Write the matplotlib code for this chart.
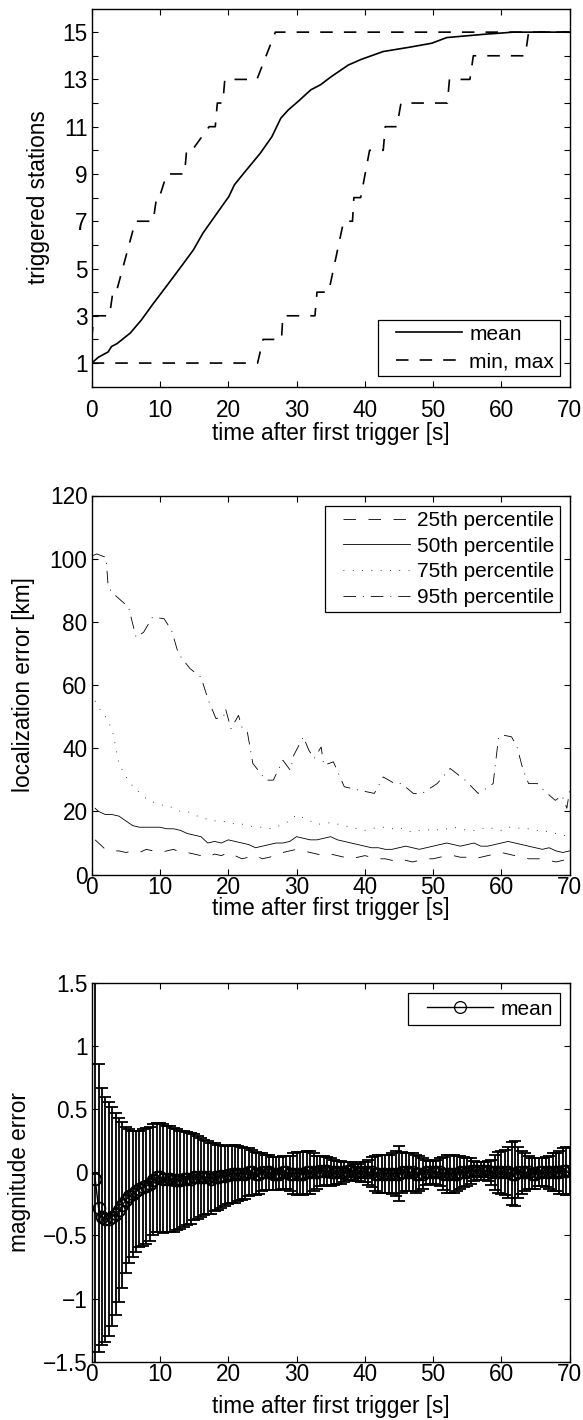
import numpy as np
import matplotlib
matplotlib.use("Agg")
import matplotlib.pyplot as plt
from matplotlib.legend_handler import HandlerLine2D
from matplotlib.ticker import FuncFormatter

plt.rcParams['font.family'] = ['Liberation Sans', 'DejaVu Sans']
plt.rcParams['lines.scale_dashes'] = False

# ---------------- data ----------------
# panel 1: triggered stations
t_mean = [0, 1, 2.4, 2.9, 3.7, 5.65, 7.3, 8.9, 11.1, 13.3, 14.9, 16.3, 18.7, 20.1, 20.9, 22.3,
          24.7, 26.4, 27.7, 28.8, 30.2, 32.1, 33.5, 35.1, 37.6, 39.5, 42.7, 46.5, 49.8, 52.0,
          57.5, 61.8, 70]
stations_mean = [1.0, 1.25, 1.47, 1.7, 1.82, 2.27, 2.83, 3.47, 4.31, 5.16, 5.79, 6.5, 7.48, 8.05,
                 8.54, 9.04, 9.88, 10.58, 11.36, 11.71, 12.06, 12.56, 12.77, 13.12, 13.61, 13.85,
                 14.18, 14.36, 14.53, 14.77, 14.91, 15.0, 15.0]
t_max = [0, 0.3, 2.6, 3.1, 3.6, 6.4, 9.0, 9.5, 9.9, 11.0, 13.6, 13.9, 14.7, 17.2, 18.1, 18.4,
         19.2, 19.5, 24.2, 26.9, 27.2, 70]
stations_max = [2, 3, 3, 4, 4, 7, 7, 8, 8, 9, 9, 10, 10, 11, 11, 12, 12, 13, 13, 15, 15, 15]
t_min = [0, 24.3, 25.1, 27.8, 28.0, 32.7, 33.0, 34.7, 36.9, 38.2, 38.4, 39.4, 40.7, 42.7, 43.0,
         44.7, 45.3, 52.1, 52.4, 55.4, 55.9, 63.5, 64.0, 70]
stations_min = [1, 1, 2, 2, 3, 3, 4, 4, 7, 7, 8, 8, 10, 10, 11, 11, 12, 12, 13, 13, 14, 14, 15, 15]

# panel 2: localization error percentiles
t_pct = [0.5] + list(range(1, 71))
p25 = [11, 10, 8, 7.5, 7.5, 7, 7.5, 7, 8, 7.5, 7, 7.5, 8, 7, 7, 6.5, 6, 5.5, 6.5, 6, 7, 6, 5, 5.5,
       6, 5, 5.5, 6, 7, 7.5, 8, 7.5, 7, 6.5, 6, 6.5, 6, 5.5, 5, 5.5, 6, 5.5, 5, 5, 4.5, 5, 4.5, 4,
       4.5, 5, 5, 5.5, 6, 6, 5.5, 5.5, 5, 5.5, 6, 6.5, 7, 6.5, 6, 5.5, 5, 5, 5, 4.5, 4, 4.5, 5]
p50 = [21, 20, 19, 19, 18.5, 17, 15.5, 15, 15, 15, 15, 14.5, 14.5, 14, 13, 12.5, 12, 10, 10.5, 10,
       11, 10.5, 10, 9.5, 8.5, 9, 9.5, 10, 10, 10.5, 12, 11.5, 11, 11, 11.5, 12, 11, 10.5, 10, 9.5,
       9, 8.5, 8.5, 8, 8, 8.5, 9, 8.5, 8, 8.5, 9, 9.5, 10, 9.5, 9, 9.5, 10, 9, 9, 9.5, 10, 10.5, 10,
       9.5, 9, 8.5, 8, 8.5, 7.5, 7, 7.5]
p75 = [55, 53, 50, 46, 35, 31, 28, 26, 24, 23, 22, 22, 21, 20, 20, 19, 18, 17.5, 17, 17, 16.5, 16,
       16, 15.5, 15, 15, 14.5, 15, 16, 17, 19, 18, 17, 16, 16, 16.5, 16, 15.5, 15, 14.5, 14, 14.5,
       15, 15, 14.5, 15, 14, 13.5, 14, 14, 14.5, 14, 14.5, 15, 14.5, 14, 14, 14.5, 15, 14.5, 14, 15,
       15, 14.5, 14.5, 14, 14, 13.5, 13, 12.5, 12]
t95 = [0.2, 0.75, 2.1, 2.4, 2.9, 4.6, 5.4, 6.5, 7.6, 8.9, 10.6, 11.7, 12.7, 14.4, 16.0, 17.1, 18.2,
       19.3, 19.6, 20.4, 21.5, 22.0, 22.8, 23.6, 25.5, 26.6, 28.0, 29.1, 29.6, 31.0, 31.8, 32.6,
       33.6, 34.0, 35.4, 37.0, 39.2, 41.4, 42.7, 44.4, 45.4, 47.1, 48.4, 50.6, 52.5, 54.7, 56.6,
       57.4, 58.8, 59.6, 60.4, 61.5, 62.3, 63.2, 64.0, 65.3, 66.2, 67.9, 68.9, 69.6, 70]
p95 = [101, 101.5, 100.4, 91.5, 89.4, 86.2, 84.6, 75.1, 76.7, 81.5, 81.0, 77.3, 69.9, 65.2, 62.5,
       55.1, 49.4, 49.9, 52.5, 46.2, 50.4, 46.7, 45.1, 35.2, 29.9, 29.9, 36.2, 33.0, 37.8, 43.6,
       39.4, 36.7, 40.4, 34.6, 35.7, 27.8, 26.7, 25.7, 30.9, 28.8, 28.8, 25.7, 25.7, 28.8, 33.6,
       29.9, 25.7, 26.7, 28.8, 43.6, 44.1, 43.6, 40.4, 33.0, 28.8, 28.8, 26.7, 23.5, 25.0, 21.0, 26.7]

# panel 3: magnitude error mean and standard deviation
t_mag = [0.5 * (i + 1) for i in range(140)]
mag_mean = [-0.05, -0.28, -0.35, -0.37, -0.37, -0.35, -0.33, -0.30, -0.26, -0.22, -0.19, -0.17, -0.15, -0.13, -0.12, -0.11, -0.09, -0.06, -0.04, -0.04,
            -0.05, -0.05, -0.05, -0.06, -0.06, -0.06, -0.05, -0.05, -0.05, -0.04, -0.04, -0.04, -0.04, -0.04, -0.05, -0.04, -0.04, -0.03, -0.03, -0.02,
            -0.01, -0.01, -0.01, -0.01, -0.01, 0.00, 0.00, -0.01, -0.01, 0.00, 0.00, 0.00, -0.01, -0.01, -0.01, 0.00, 0.00, -0.01, -0.01, -0.01,
            -0.01, -0.01, 0.00, 0.00, 0.00, 0.00, 0.01, 0.01, 0.01, 0.00, 0.00, 0.00, 0.00, 0.00, 0.01, 0.01, 0.00, 0.00, 0.00, 0.00,
            0.00, 0.00, -0.01, -0.01, -0.01, -0.01, -0.01, -0.01, -0.01, -0.01, 0.00, 0.00, 0.00, 0.00, -0.01, -0.01, -0.01, 0.00, 0.00, 0.00,
            0.00, 0.00, -0.01, -0.01, -0.01, -0.01, -0.01, 0.00, 0.00, 0.00, 0.01, 0.01, 0.01, 0.01, 0.01, 0.01, 0.00, 0.00, 0.00, 0.00,
            0.00, 0.00, -0.01, -0.01, 0.00, 0.00, 0.00, 0.00, -0.01, -0.01, 0.00, 0.00, 0.00, 0.00, 0.00, 0.00, 0.00, 0.01, 0.01, 0.01]
mag_std = [1.75, 1.14, 1.02, 0.97, 0.93, 0.87, 0.80, 0.73, 0.66, 0.58, 0.53, 0.50, 0.48, 0.46, 0.46, 0.46, 0.45, 0.44, 0.43, 0.43,
           0.43, 0.42, 0.42, 0.41, 0.40, 0.39, 0.38, 0.37, 0.36, 0.34, 0.33, 0.31, 0.30, 0.29, 0.28, 0.27, 0.26, 0.25, 0.24, 0.23,
           0.23, 0.23, 0.22, 0.21, 0.20, 0.19, 0.18, 0.17, 0.16, 0.15, 0.14, 0.14, 0.13, 0.13, 0.13, 0.13, 0.13, 0.14, 0.16, 0.17,
           0.17, 0.17, 0.17, 0.17, 0.15, 0.13, 0.12, 0.12, 0.11, 0.11, 0.10, 0.09, 0.09, 0.08, 0.07, 0.07, 0.07, 0.07, 0.08, 0.08,
           0.10, 0.12, 0.14, 0.15, 0.15, 0.15, 0.15, 0.16, 0.18, 0.22, 0.16, 0.15, 0.15, 0.15, 0.15, 0.14, 0.12, 0.10, 0.09, 0.09,
           0.10, 0.11, 0.13, 0.15, 0.15, 0.15, 0.14, 0.13, 0.12, 0.11, 0.10, 0.08, 0.07, 0.07, 0.07, 0.08, 0.10, 0.14, 0.16, 0.17,
           0.18, 0.20, 0.25, 0.26, 0.20, 0.17, 0.15, 0.13, 0.12, 0.12, 0.11, 0.11, 0.12, 0.13, 0.15, 0.15, 0.17, 0.18, 0.19, 0.19]

xticks = [0, 10, 20, 30, 40, 50, 60, 70]
xlabel = "time after first trigger [s]"

# ---------------- layout ----------------
W, H = 583, 1420
fig = plt.figure(figsize=(W / 100, H / 100), dpi=100)
L, R = 91.7, 569.6


def rect(top, bottom):
    return [L / W, 1 - bottom / H, (R - L) / W, (bottom - top) / H]


FS = 16.3
LFS = 15


class PadLine(HandlerLine2D):
    def __init__(self, lead, **kw):
        super().__init__(**kw)
        self.lead = lead

    def get_xdata(self, legend, xdescent, ydescent, width, height, fontsize):
        x0 = -xdescent + self.lead * fontsize
        x1 = -xdescent + width
        return np.array([x0, x1]), np.array([(x0 + x1) / 2])


def style(ax, xpad):
    for s in ax.spines.values():
        s.set_linewidth(1.0)
    ax.tick_params(which='both', direction='in', length=4, width=0.8, top=True, right=True,
                   labelsize=FS)
    ax.tick_params(axis='x', pad=xpad)
    ax.tick_params(axis='y', pad=3)
    ax.set_xlim(0, 70)
    ax.set_xticks(xticks)


def legend(ax, handles, labels, loc, anchor, ls, bp):
    hm = {h: PadLine(0.62) for h in handles}
    lg = ax.legend(handles, labels, loc=loc, bbox_to_anchor=anchor, fontsize=LFS,
                   handlelength=3.8, handletextpad=0.36, borderpad=bp, labelspacing=ls,
                   borderaxespad=0, fancybox=False, framealpha=1, edgecolor='k',
                   handler_map=hm)
    lg.get_frame().set_linewidth(0.9)
    return lg


# ---- panel 1 ----
ax1 = fig.add_axes(rect(8.5, 386.7))
l1, = ax1.plot(t_mean, stations_mean, color='k', lw=1.2)
l2, = ax1.plot(t_max, stations_max, color='k', lw=1.2, linestyle=(0, (9, 8)))
ax1.plot(t_min, stations_min, color='k', lw=1.2, linestyle=(0, (9, 8)))
ax1.set_ylim(0, 16)
ax1.set_yticks(list(range(1, 16, 2)))
ax1.set_yticks(list(range(2, 15, 2)), minor=True)
style(ax1, 9)
legend(ax1, [l1, l2], ["mean", "min, max"], 'lower right', (0.979, 0.027), 0.41, 0.25)
fig.text(39 / W, 1 - 197.6 / H, "triggered stations", rotation=90, ha='center', va='center',
         fontsize=FS)
fig.text(330.6 / W, 1 - 433.3 / H, xlabel, ha='center', va='center', fontsize=FS)

# ---- panel 2 ----
ax2 = fig.add_axes(rect(495.5, 874.6))
m1, = ax2.plot(t_pct, p25, color='k', lw=0.6, linestyle=(0, (9, 9)))
m2, = ax2.plot(t_pct, p50, color='k', lw=0.6)
m3, = ax2.plot(t_pct, p75, color='k', lw=0.6, linestyle=(0, (0.6, 6.1)))
m4, = ax2.plot(t95, p95, color='k', lw=0.6, linestyle=(0, (9, 5, 0.7, 5)))
ax2.set_ylim(0, 120)
ax2.set_yticks(list(range(0, 121, 20)))
style(ax2, 1)
legend(ax2, [m1, m2, m3, m4], ["25th percentile", "50th percentile", "75th percentile",
                               "95th percentile"], 'upper right', (0.979, 0.9726), 0.32, 0.25)
fig.text(24 / W, 1 - 685 / H, "localization error [km]", rotation=90, ha='center', va='center',
         fontsize=FS)
fig.text(330.6 / W, 1 - 909 / H, xlabel, ha='center', va='center', fontsize=FS)

# ---- panel 3 ----
ax3 = fig.add_axes(rect(983, 1361.7))
eb = ax3.errorbar(t_mag, mag_mean, yerr=mag_std, fmt='-o', color='k', lw=1.0, elinewidth=1.3,
                  ms=8.5, mfc='none', mec='k', mew=1.3, capsize=4, capthick=1.3)
ax3.set_ylim(-1.5, 1.5)
ax3.set_yticks([-1.5, -1, -0.5, 0, 0.5, 1, 1.5])
ax3.yaxis.set_major_formatter(FuncFormatter(lambda v, p: ("%g" % v).replace('-', '\u2212')))
style(ax3, 1)
proxy, = ax3.plot([], [], '-o', color='k', lw=1.0, ms=8.5, mfc='none', mew=0.9)
legend(ax3, [proxy], ["mean"], 'upper right', (0.979, 0.9728), 0.3, 0.3)
fig.text(19.5 / W, 1 - 1172 / H, "magnitude error", rotation=90, ha='center', va='center',
         fontsize=FS)
fig.text(330.6 / W, 1 - 1406.7 / H, xlabel, ha='center', va='center', fontsize=FS)

fig.savefig("out.png", dpi=100)
